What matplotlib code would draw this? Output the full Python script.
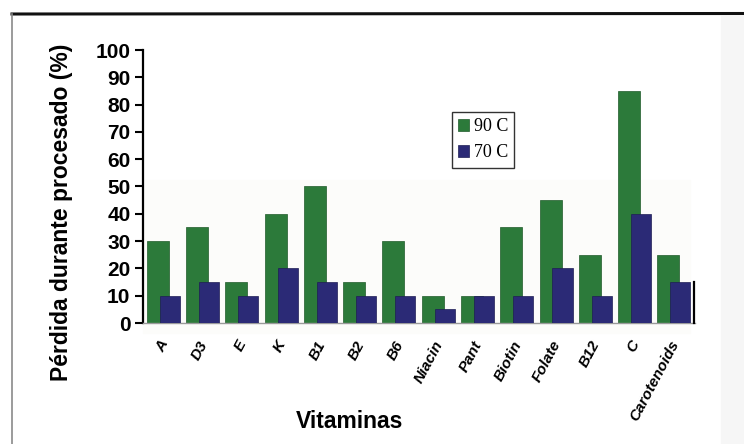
import matplotlib
matplotlib.use("Agg")
import matplotlib.pyplot as plt
from matplotlib.lines import Line2D
from matplotlib.patches import Rectangle
import numpy as np

vitamins = ["A", "D3", "E", "K", "B1", "B2", "B6", "Niacin", "Pant", "Biotin",
            "Folate", "B12", "C", "Carotenoids"]
loss_90C = [30, 35, 15, 40, 50, 15, 30, 10, 10, 35, 45, 25, 85, 25]
loss_70C = [10, 15, 10, 20, 15, 10, 10, 5, 10, 10, 20, 10, 40, 15]
yticks = [0, 10, 20, 30, 40, 50, 60, 70, 80, 90, 100]

green = "#2c7a3a"
navy = "#2b2a76"

fig = plt.figure(figsize=(7.44, 4.44), dpi=100)

# page frame / scan background
fig.add_artist(Rectangle((721/744, 0), 23/744, 1 - 16/444, color="#f6f6f6",
                         transform=fig.transFigure, zorder=0))
fig.add_artist(Line2D([12/744, 1.0], [1 - 14/444, 1 - 13.5/444], color="#111111",
                      linewidth=2.2, transform=fig.transFigure))
fig.add_artist(Line2D([12/744, 12/744], [0, 1 - 14/444], color="#8a8a8a",
                      linewidth=1.2, transform=fig.transFigure))
fig.add_artist(Rectangle((143/744, 1 - 333/444), (690 - 143)/744, 153/444,
                         color="#fcfcfa", transform=fig.transFigure, zorder=0))

ax = fig.add_axes([143/744, 1 - 323/444, (695 - 143)/744, (323 - 50)/444])
ax.patch.set_alpha(0)

x = np.arange(len(vitamins))
ax.bar(x - 0.14, loss_90C, width=0.56, color=green, edgecolor="#1f5a2a",
       linewidth=0.5, label="90 C", zorder=2)
ax.bar(x + 0.165, loss_70C, width=0.51, color=navy, edgecolor="#1e1d55",
       linewidth=0.5, label="70 C", zorder=3)

ax.set_xlim(-0.52, 13.54)
ax.set_ylim(0, 100)
ax.set_yticks(yticks)
ax.set_yticklabels([str(v) for v in yticks], fontsize=15, fontweight="bold",
                   family="Liberation Sans")
ax.tick_params(axis="y", direction="out", length=6, width=1.5, pad=3)
ax.set_xticks(x - 0.12)
ax.set_xticklabels(vitamins, rotation=62, ha="right", va="top",
                   rotation_mode="anchor", fontsize=11, fontweight="bold",
                   fontstyle="italic", family="Liberation Sans")
ax.tick_params(axis="x", length=0, pad=11)

for s in ["top", "right"]:
    ax.spines[s].set_visible(False)
ax.spines["left"].set_linewidth(1.6)
ax.spines["left"].set_color("black")
ax.spines["bottom"].set_linewidth(1.0)
ax.spines["bottom"].set_color("#9a9a9a")
ax.plot([13.52, 13.52], [0, 15], color="black", linewidth=1.6,
        clip_on=False, zorder=4)

fig.text(62/744, 1 - 212/444, "Pérdida durante procesado (%)", rotation=90,
         ha="center", va="center", fontsize=16.5, fontweight="bold",
         family="Liberation Sans")
fig.text(350/744, 1 - 421/444, "Vitaminas", ha="center", va="center",
         fontsize=16.5, fontweight="bold", family="Liberation Sans")

leg = ax.legend(loc="upper left", bbox_to_anchor=(443/744, 1 - 103/444),
                bbox_transform=fig.transFigure, frameon=True, fancybox=False,
                edgecolor="black", handlelength=0.6, handleheight=0.7,
                handletextpad=0.25, borderpad=0.35, labelspacing=0.5,
                prop={"family": "Liberation Serif", "size": 13})
leg.get_frame().set_linewidth(1.0)

fig.savefig("out.png", dpi=100)
